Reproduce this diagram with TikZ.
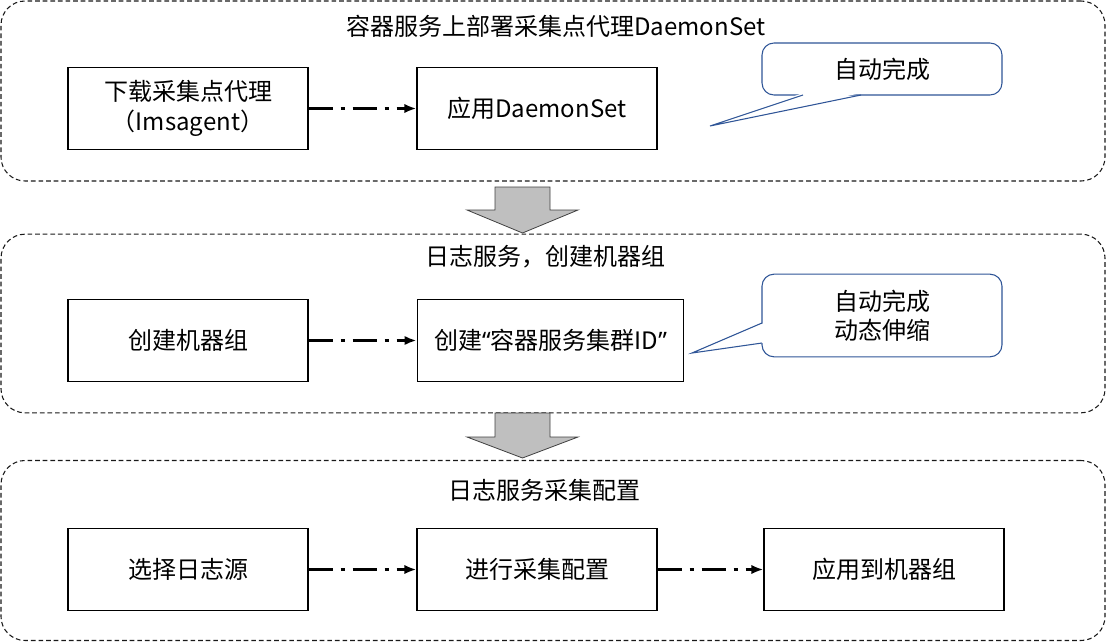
\documentclass[tikz,border=0pt]{standalone}
\usepackage{fontspec}
\setmainfont{Noto Sans CJK SC}
\newfontfamily\quotefont{Noto Sans}
\usetikzlibrary{arrows.meta}

\definecolor{calloutblue}{RGB}{47,85,151}
\definecolor{arrowgray}{RGB}{191,191,191}

\tikzset{
    groupbox/.style={draw=black!90, dash pattern=on 3.5pt off 2.2pt, line width=0.8pt, rounded corners=18pt, minimum width=828pt, inner sep=0pt},
    taskbox/.style={draw, line width=0.9pt, minimum width=180pt, minimum height=62pt, align=center, font=\fontsize{18pt}{23pt}\selectfont},
    titletext/.style={font=\fontsize{18pt}{23pt}\selectfont},
    calloutbox/.style={draw=calloutblue, line width=0.8pt, fill=white, rounded corners=9pt, minimum width=180pt, align=center, font=\fontsize{18pt}{22pt}\selectfont},
    callouttail/.style={draw=calloutblue, line width=0.8pt},
    flowarrow/.style={line width=2.3pt, dash pattern=on 18pt off 6pt on 3pt off 6pt, -{Latex[length=9pt,width=7pt]}},
    downarrow/.style={draw=black!75, fill=arrowgray, line width=0.6pt}
}

\begin{document}
\begin{tikzpicture}[x=0.75pt, y=-0.75pt]

        \useasboundingbox (0,0) rectangle (1107,642);

        \node[groupbox, minimum height=135pt] (deploy) at (553,91) {};
        \node[groupbox, minimum height=134pt] (machine) at (553,323.5) {};
        \node[groupbox, minimum height=135pt] (collect) at (553,550.5) {};

        \node[titletext] (deploytitle) at (556,26) {容器服务上部署采集点代理DaemonSet};
        \node[titletext] (machinetitle) at (545,257) {日志服务，创建机器组};
        \node[titletext] (collecttitle) at (544,490) {日志服务采集配置};

        \node[taskbox] (download) at (188,108.5) {下载采集点代理\\（Imsagent）};
        \node[taskbox] (apply) at (537,108.5) {应用DaemonSet};

        \node[taskbox] (creategroup) at (188,340.5) {创建机器组};
        \node[taskbox, minimum width=200pt] (clusterid) at (550.5,340.5) {创建{\quotefont “}容器服务集群ID{\quotefont ”}};

        \node[taskbox] (source) at (188,569.5) {选择日志源};
        \node[taskbox] (config) at (537,569.5) {进行采集配置};
        \node[taskbox] (togroup) at (884,569.5) {应用到机器组};

        \draw[flowarrow] (download) -- (apply);
        \draw[flowarrow] (creategroup) -- (clusterid);
        \draw[flowarrow] (source) -- (config);
        \draw[flowarrow] (config) -- (togroup);

        \draw[downarrow] (495,187) -- ++(55,0) -- ++(0,23) -- ++(28,0) -- (522.5,233) -- (467,210) -- ++(28,0) -- cycle;
        \draw[downarrow] (495,413) -- ++(55,0) -- ++(0,24) -- ++(28,0) -- (522.5,458) -- (467,437) -- ++(28,0) -- cycle;

        \node[calloutbox, minimum height=39pt] (auto) at (882,69) {自动完成};
        \coordinate (autotip) at (710,126);
        \fill[white] (803,93) -- (autotip) -- (861,93) -- cycle;
        \draw[callouttail] (803,95) -- (autotip) -- (861,95);

        \node[calloutbox, minimum height=62pt] (scale) at (882,315.5) {自动完成\\动态伸缩};
        \coordinate (scaletip) at (692,353);
        \fill[white] (764,323) -- (scaletip) -- (764,343) -- cycle;
        \draw[callouttail] (762,323) -- (scaletip) -- (762,343);

\end{tikzpicture}
\end{document}
